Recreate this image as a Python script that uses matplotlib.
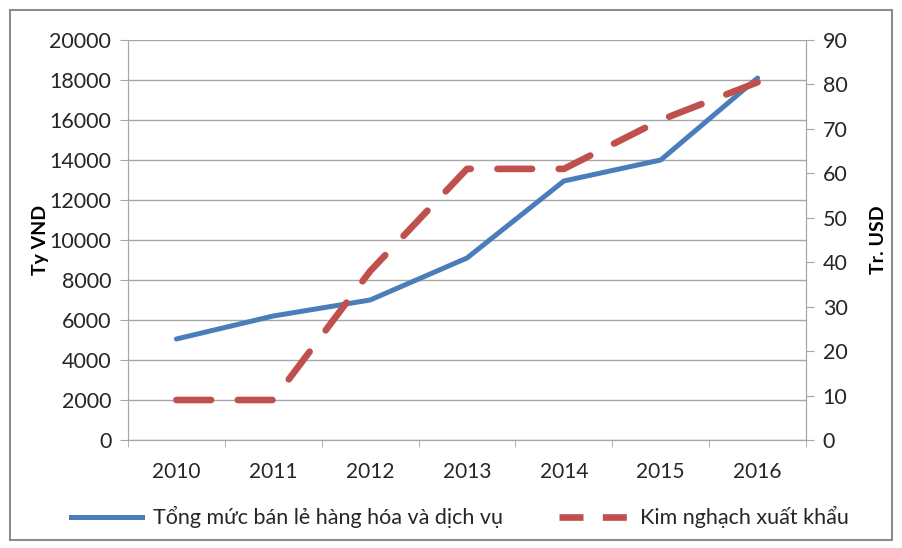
import matplotlib.pyplot as plt
from matplotlib.lines import Line2D
from matplotlib.patches import Rectangle
import numpy as np

years = ['2010', '2011', '2012', '2013', '2014', '2015', '2016']
retail = [5050, 6200, 7000, 9100, 12950, 14000, 18100]   # Ty VND
exports = [9, 9, 38, 61, 61, 72, 80.5]                   # Tr. USD

plt.rcParams['font.family'] = ['Lato', 'DejaVu Sans']

fig = plt.figure(figsize=(9.02, 5.48), dpi=100)
ax = fig.add_axes([128/902, 1 - 440/548, 678/902, 400/548])
ax2 = ax.twinx()

x = np.arange(len(years))
grid_c = '#a6a6a6'
txt_c = '#262626'

ax.plot(x, retail, color='#4a7ebb', linewidth=3.6, solid_capstyle='round', zorder=3)
ax2.plot(x, exports, color='#c0504d', linewidth=4.8, dashes=(5.2, 4.0),
         dash_capstyle='round', zorder=3)

ax.set_xlim(-0.5, 6.5)
ax.set_ylim(0, 20000)
ax.set_yticks(np.arange(0, 20001, 2000))
ax2.set_ylim(0, 90)
ax2.set_yticks(np.arange(0, 91, 10))

ax.set_xticks(x)
ax.set_xticklabels(years, fontsize=15, color=txt_c)
ax.set_xticks(np.arange(-0.5, 7, 1), minor=True)
ax.tick_params(axis='x', which='major', length=0, pad=16)
ax.tick_params(axis='x', which='minor', length=5, color=grid_c, direction='out')
ax.tick_params(axis='y', labelsize=15.5, colors=txt_c, length=6, color=grid_c, pad=6)
ax2.tick_params(axis='y', labelsize=15.5, colors=txt_c, length=6, color=grid_c, pad=6)

ax.grid(axis='y', color=grid_c, linewidth=1)
ax.set_axisbelow(True)
for a in (ax, ax2):
    a.spines['top'].set_visible(False)
    a.spines['left'].set_color(grid_c)
    a.spines['right'].set_color(grid_c)
    a.spines['bottom'].set_color(grid_c)

ax.set_ylabel('Ty VND', fontsize=14, fontweight='bold', labelpad=0)
ax2.set_ylabel('Tr. USD', fontsize=14, fontweight='bold', labelpad=16)

handles = [Line2D([], [], color='#4a7ebb', linewidth=3.6),
           Line2D([], [], color='#c0504d', linewidth=4.8, dashes=(3.6, 2.9),
                  dash_capstyle='butt')]
fig.legend(handles, ['Tổng mức bán lẻ hàng hóa và dịch vụ', 'Kim nghạch xuất khẩu'],
           loc='center', bbox_to_anchor=(0.51, 1 - 517/548), ncol=2, frameon=False,
           fontsize=15.5, handlelength=3.3, columnspacing=2.6, handletextpad=0.5,
           labelcolor=txt_c)

fig.patches.append(Rectangle((10/902, 1 - 540/548), 882/902, 530/548,
                             transform=fig.transFigure, fill=False,
                             edgecolor='#8c8c8c', linewidth=1.5))

fig.savefig('out.png', dpi=100)
